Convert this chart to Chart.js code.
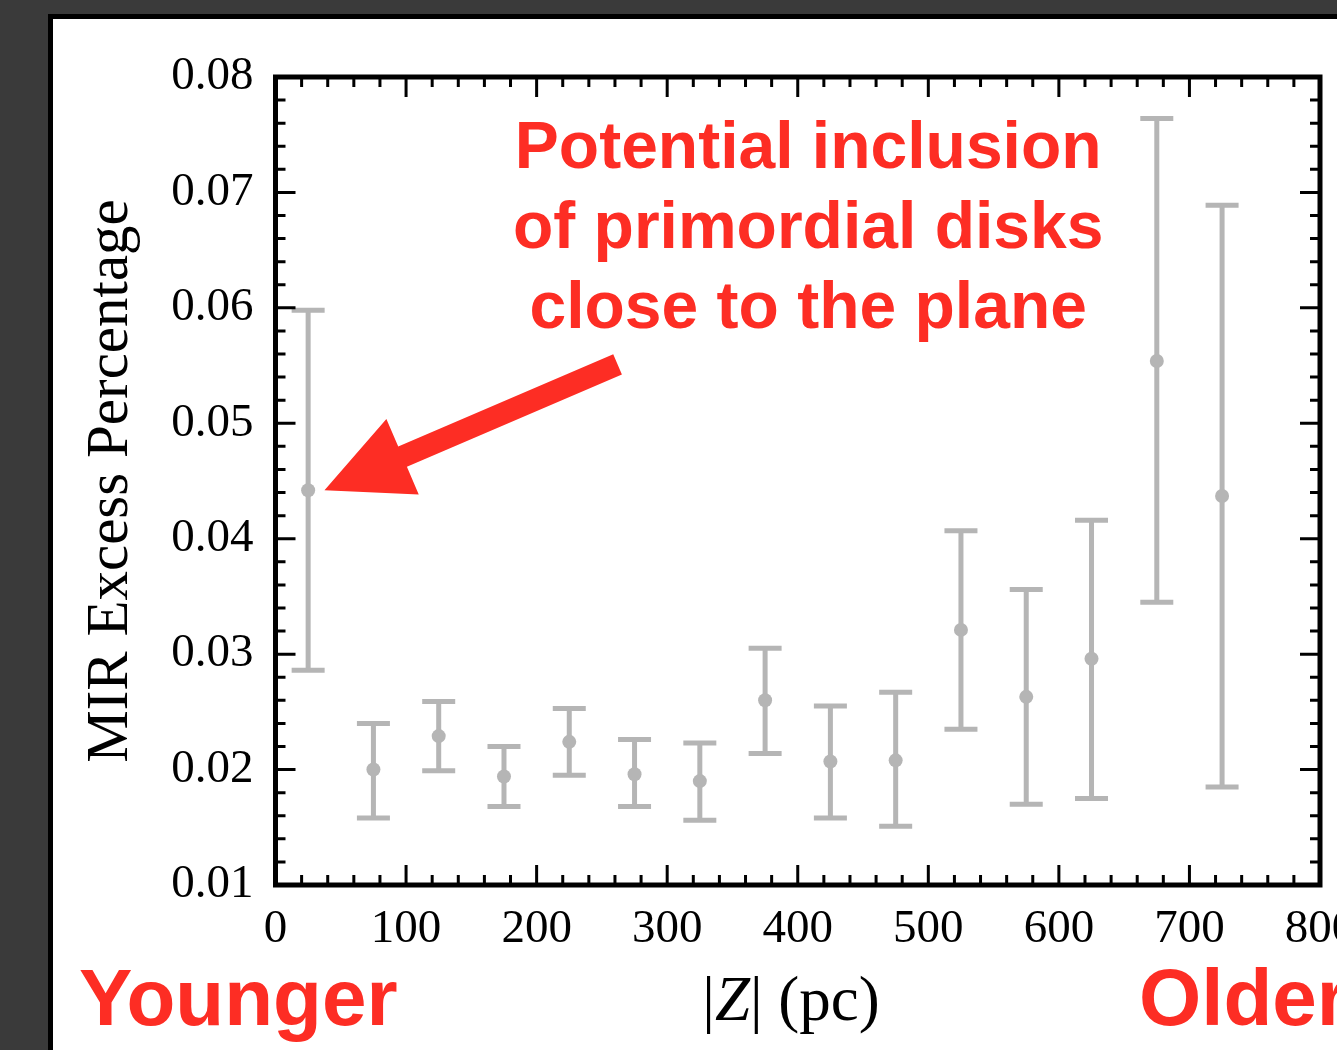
<!DOCTYPE html>
<html>
<head>
<meta charset="utf-8">
<title>MIR excess vs |Z|</title>
<script src="https://cdn.jsdelivr.net/npm/chart.js@4/dist/chart.umd.min.js"></script>
<style>
  html, body { margin: 0; padding: 0; background: #3a3a3a; overflow: hidden; }
  #panel {
    position: absolute; left: 48px; top: 14px;
    width: 1400px; height: 1100px;
    background: #fff; border: 5px solid #000;
  }
  #wrap { position: absolute; left: 0; top: 0; width: 1337px; height: 1050px; }
</style>
</head>
<body>
<div id="panel"></div>
<div id="wrap"><canvas id="myChart" width="1337" height="1050"></canvas></div>
<script>
// |Z| bin centres (pc) and MIR excess fraction with error bar limits
const zBins = [25, 75, 125, 175, 225, 275, 325, 375, 425, 475, 525, 575, 625, 675, 725];
const mirExcess = [0.0442, 0.0200, 0.0229, 0.0194, 0.0224, 0.0196, 0.0190, 0.0260, 0.0207, 0.0208, 0.0321, 0.0263, 0.0296, 0.0554, 0.0437];
const errLow = [0.0286, 0.0158, 0.0199, 0.0168, 0.0195, 0.0168, 0.0156, 0.0214, 0.0158, 0.0151, 0.0235, 0.0170, 0.0175, 0.0345, 0.0185];
const errHigh = [0.0598, 0.0240, 0.0259, 0.0220, 0.0253, 0.0226, 0.0223, 0.0305, 0.0255, 0.0267, 0.0407, 0.0356, 0.0416, 0.0764, 0.0689];

const xTicks = [0, 100, 200, 300, 400, 500, 600, 700, 800];
const yTicks = [0.01, 0.02, 0.03, 0.04, 0.05, 0.06, 0.07, 0.08];

const noteLines = ['Potential inclusion', 'of primordial disks', 'close to the plane'];
const noteAt = { x: 408, y: 0.0721 };
const arrowTail = { x: 262, y: 0.0551 };
const arrowTip = { x: 37.5, y: 0.0442 };

const RED = '#fd2d24';
const GREY = '#b5b5b5';
const SERIF = '"Liberation Serif", "Times New Roman", serif';
const SANS = '"Liberation Sans", Arial, Helvetica, sans-serif';

const points = zBins.map((z, i) => ({ x: z, y: mirExcess[i] }));

// vertical error bars with caps
const errorBars = {
  id: 'errorBars',
  beforeDatasetsDraw(chart) {
    const { ctx, scales: { x, y } } = chart;
    ctx.save();
    ctx.strokeStyle = GREY;
    ctx.lineWidth = 5;
    zBins.forEach((z, i) => {
      const px = x.getPixelForValue(z);
      const lo = y.getPixelForValue(errLow[i]);
      const hi = y.getPixelForValue(errHigh[i]);
      ctx.beginPath();
      ctx.moveTo(px, lo); ctx.lineTo(px, hi);
      ctx.moveTo(px - 16.5, lo); ctx.lineTo(px + 16.5, lo);
      ctx.moveTo(px - 16.5, hi); ctx.lineTo(px + 16.5, hi);
      ctx.stroke();
    });
    ctx.restore();
  }
};

// box frame with inward major / minor ticks on all four sides
const frameTicks = {
  id: 'frameTicks',
  afterDraw(chart) {
    const { ctx, chartArea: a, scales: { x, y } } = chart;
    ctx.save();
    ctx.strokeStyle = '#000';
    ctx.lineWidth = 3;
    ctx.beginPath();
    for (let v = 0; v <= 800; v += 20) {
      const px = x.getPixelForValue(v);
      const len = v % 100 === 0 ? 20 : 10;
      ctx.moveTo(px, a.bottom); ctx.lineTo(px, a.bottom - len);
      ctx.moveTo(px, a.top); ctx.lineTo(px, a.top + len);
    }
    for (let k = 5; k <= 40; k++) {
      const v = k * 0.002;
      const py = y.getPixelForValue(v);
      const len = k % 5 === 0 ? 20 : 10;
      ctx.moveTo(a.left, py); ctx.lineTo(a.left + len, py);
      ctx.moveTo(a.right, py); ctx.lineTo(a.right - len, py);
    }
    ctx.stroke();
    ctx.lineWidth = 5;
    ctx.strokeRect(a.left, a.top, a.right - a.left, a.bottom - a.top);
    ctx.restore();
  }
};

// red annotation, arrow, age hints and the x-axis title
const notes = {
  id: 'notes',
  afterDraw(chart) {
    const { ctx, chartArea: a, scales: { x, y } } = chart;
    ctx.save();
    ctx.fillStyle = RED;
    ctx.font = 'bold 66px ' + SANS;
    ctx.textAlign = 'center';
    ctx.textBaseline = 'alphabetic';
    const nx = x.getPixelForValue(noteAt.x);
    const ny = y.getPixelForValue(noteAt.y);
    noteLines.forEach((t, i) => ctx.fillText(t, nx, ny + i * 80));

    // arrow
    const tx = x.getPixelForValue(arrowTail.x), ty = y.getPixelForValue(arrowTail.y);
    const hx = x.getPixelForValue(arrowTip.x), hy = y.getPixelForValue(arrowTip.y);
    const dx = tx - hx, dy = ty - hy, d = Math.hypot(dx, dy);
    const ux = dx / d, uy = dy / d, nxp = -uy, nyp = ux;
    const headLen = 85, headW = 41, shaftW = 11;
    const bx = hx + ux * headLen, by = hy + uy * headLen;
    ctx.beginPath();
    ctx.moveTo(hx, hy);
    ctx.lineTo(bx + nxp * headW, by + nyp * headW);
    ctx.lineTo(bx + nxp * shaftW, by + nyp * shaftW);
    ctx.lineTo(tx + nxp * shaftW, ty + nyp * shaftW);
    ctx.lineTo(tx - nxp * shaftW, ty - nyp * shaftW);
    ctx.lineTo(bx - nxp * shaftW, by - nyp * shaftW);
    ctx.lineTo(bx - nxp * headW, by - nyp * headW);
    ctx.closePath();
    ctx.fill();

    ctx.font = 'bold 80px ' + SANS;
    ctx.textAlign = 'left';
    ctx.fillText('Younger', 79, 1025);
    ctx.fillText('Older', 1139, 1025);

    // |Z| (pc) with italic Z
    ctx.fillStyle = '#000';
    const parts = [['|', 'normal'], ['Z', 'italic'], ['| (pc)', 'normal']];
    let total = 0;
    parts.forEach(p => { ctx.font = p[1] + ' 63px ' + SERIF; p.push(ctx.measureText(p[0]).width); total += p[2]; });
    let cx = 791 - total / 2;
    parts.forEach(p => { ctx.font = p[1] + ' 63px ' + SERIF; ctx.fillText(p[0], cx, 1020); cx += p[2]; });
    ctx.restore();
  }
};

new Chart(document.getElementById('myChart'), {
  type: 'scatter',
  data: {
    datasets: [{
      data: points,
      backgroundColor: GREY,
      borderWidth: 0,
      pointRadius: 7,
      pointHoverRadius: 7
    }]
  },
  options: {
    responsive: false,
    animation: false,
    events: [],
    layout: { padding: { left: 0, top: 77, right: 17, bottom: 0 } },
    plugins: { legend: { display: false }, tooltip: { enabled: false } },
    scales: {
      x: {
        type: 'linear', min: 0, max: 800,
        afterBuildTicks: s => { s.ticks = xTicks.map(v => ({ value: v })); },
        grid: { display: false }, border: { display: false },
        ticks: { color: '#000', padding: 8, maxRotation: 0, autoSkip: false,
                 font: { family: SERIF, size: 47 } },
        afterFit: s => { s.height = 165; s.paddingLeft = 0; s.paddingRight = 0; }
      },
      y: {
        type: 'linear', min: 0.01, max: 0.08,
        afterBuildTicks: s => { s.ticks = yTicks.map(v => ({ value: v })); },
        grid: { display: false }, border: { display: false },
        ticks: { color: '#000', padding: 14, font: { family: SERIF, size: 47 },
                 callback: v => v.toFixed(2) },
        title: { display: true, text: 'MIR Excess Percentage', color: '#000',
                 font: { family: SERIF, size: 59 }, padding: { top: 76, bottom: 0 } },
        afterFit: s => { s.width = 275.5; s.paddingTop = 0; s.paddingBottom = 0; }
      }
    }
  },
  plugins: [errorBars, frameTicks, notes]
});
</script>
</body>
</html>
